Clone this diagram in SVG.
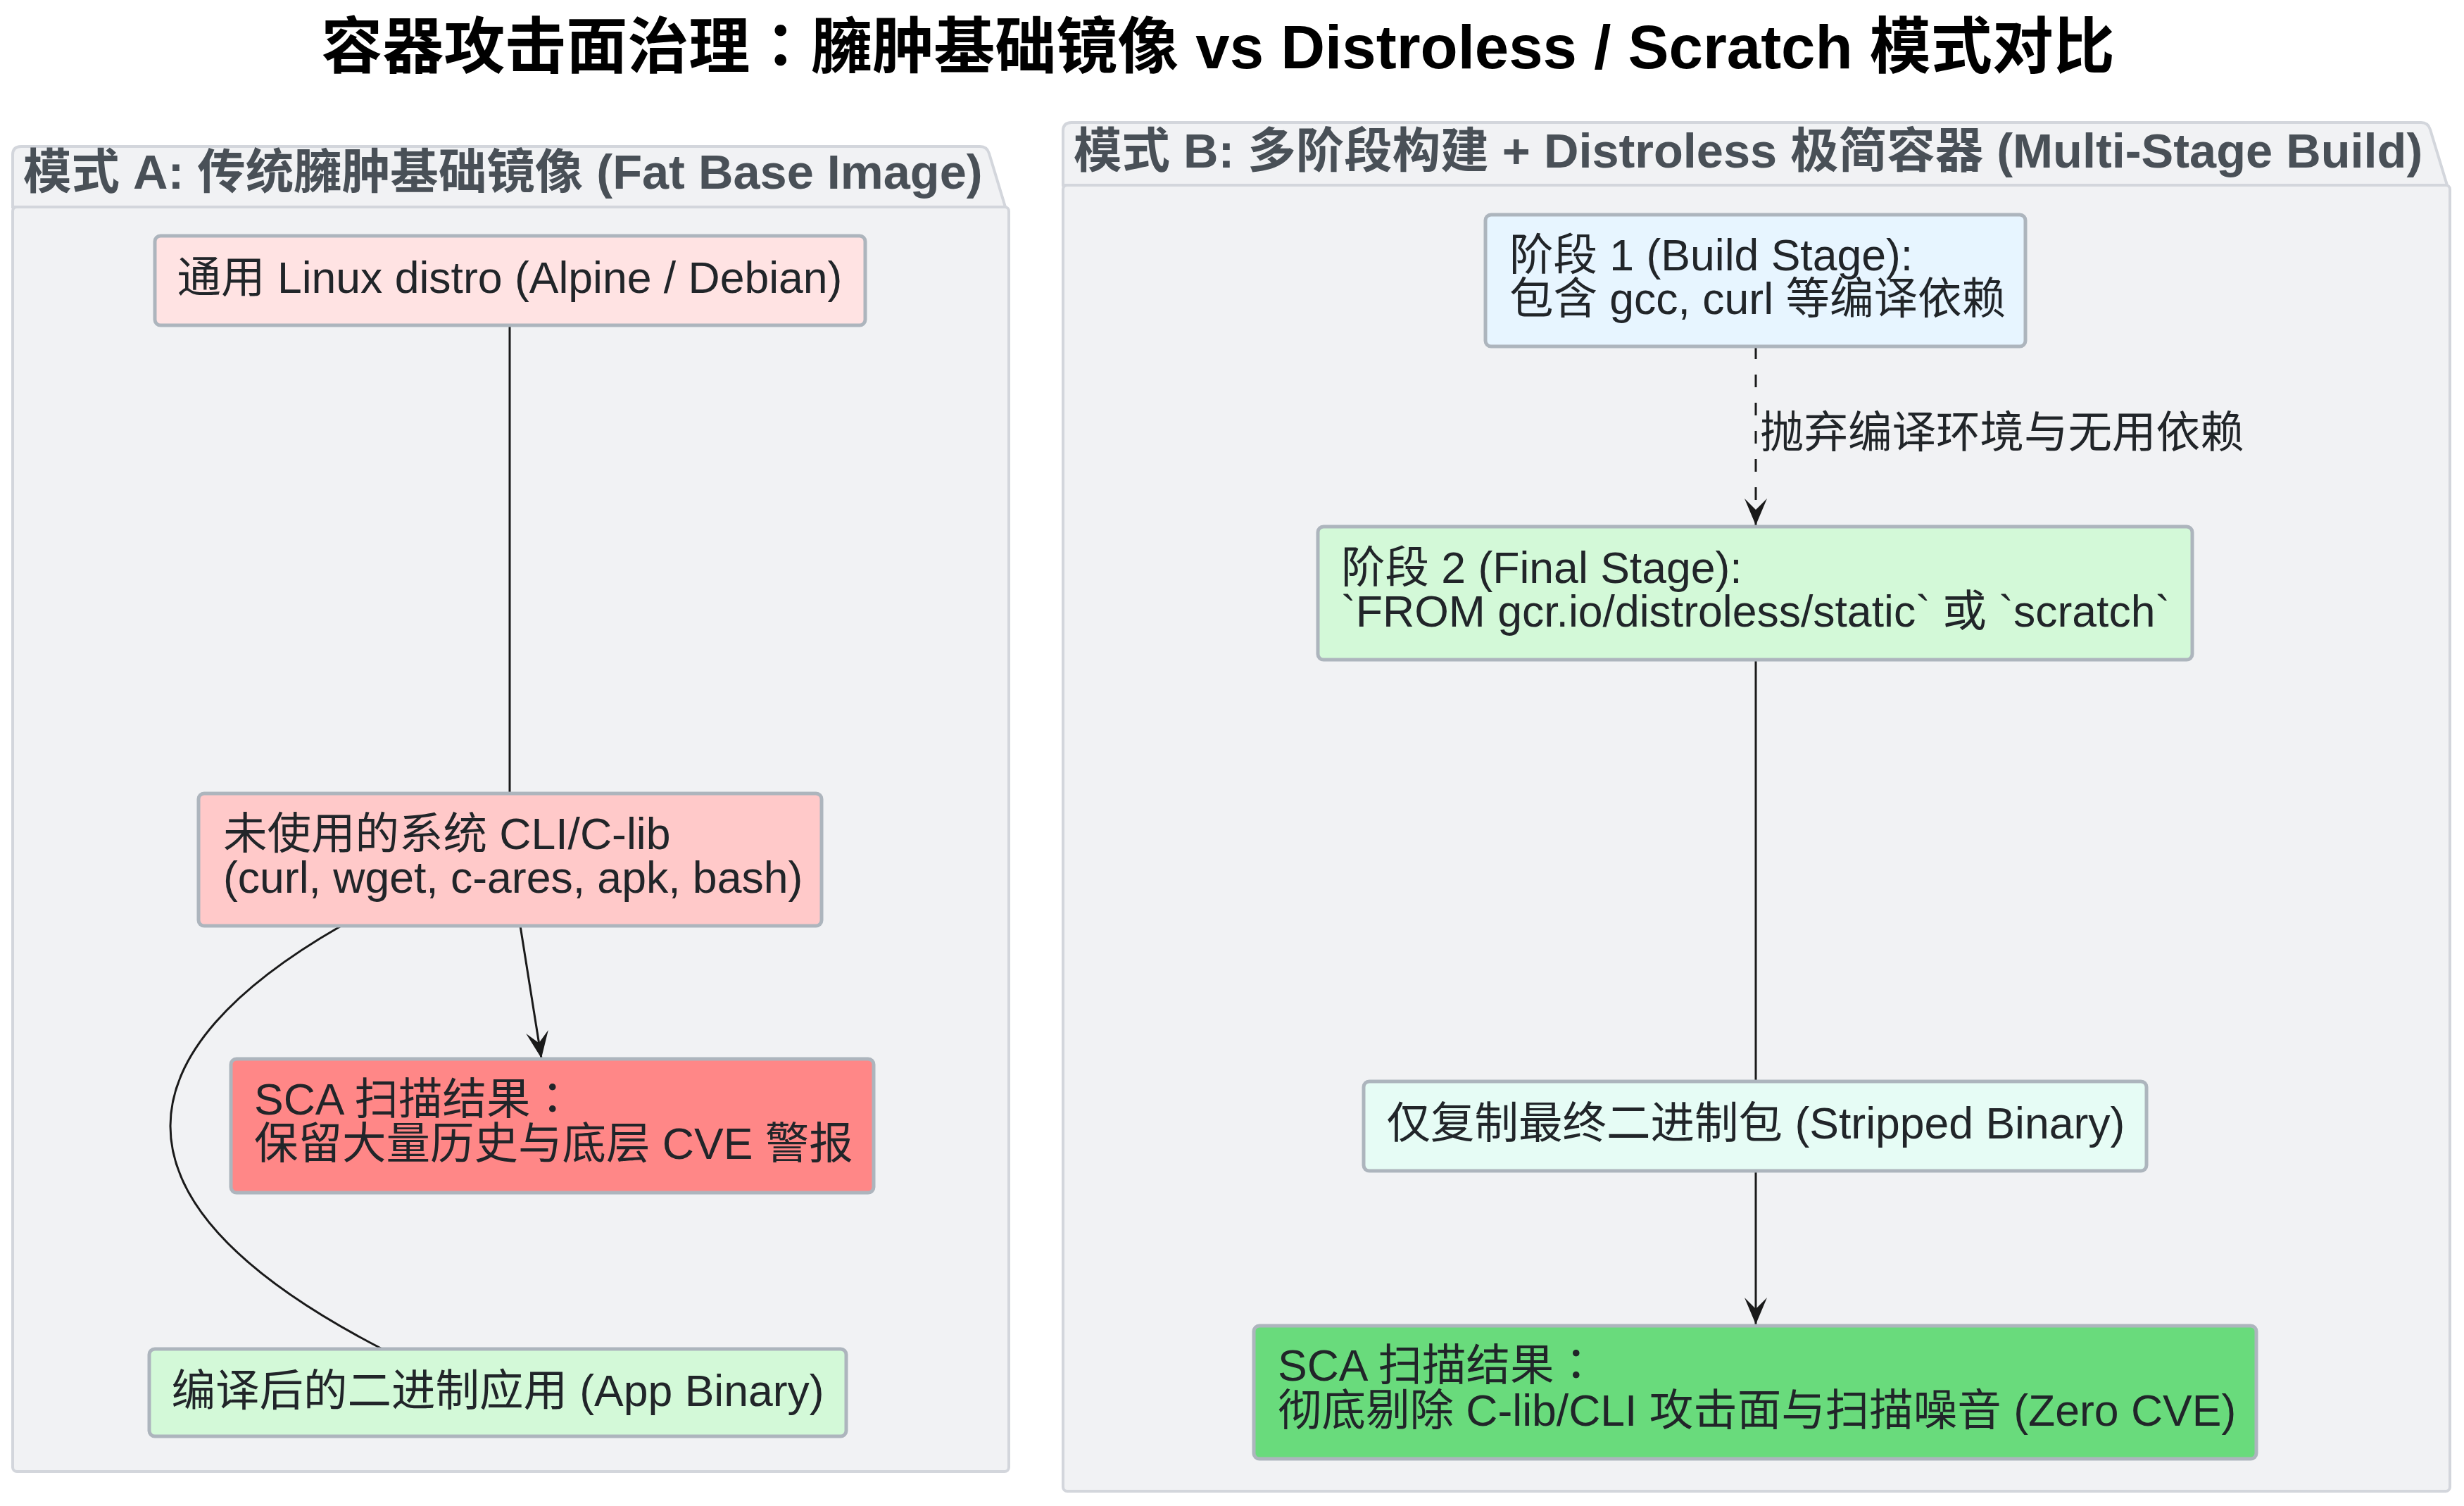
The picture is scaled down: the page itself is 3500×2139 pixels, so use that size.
<svg xmlns="http://www.w3.org/2000/svg" width="3500" height="2139" viewBox="0 0 3500 2139">
<style>
  text { font-family: "Liberation Sans", "Noto Sans CJK SC", Arial, sans-serif; }
  .title { font-size: 87px; font-weight: bold; fill: #000000; }
  .cl { fill: #f1f2f4; stroke: #d3d6dc; stroke-width: 4; }
  .cl-label { font-size: 68.5px; font-weight: bold; fill: #495057; }
  .box { stroke: #adb5bd; stroke-width: 5; }
  .t { font-size: 62.5px; fill: #212529; }
  .edge { fill: none; stroke: #1a1a1a; stroke-width: 3; }
  .dashed { stroke-dasharray: 18 22; }
  .cc { font-family: "Noto Sans CJK TC", "Noto Sans CJK SC", sans-serif; }
</style>
<defs>
  <marker id="arrow" viewBox="-40 -18 42 36" markerWidth="42" markerHeight="36" refX="0" refY="0" orient="auto" markerUnits="userSpaceOnUse">
    <path d="M0,0 L-38,-16 L-22,0 L-38,16 Z" fill="#1a1a1a"/>
  </marker>
</defs>
<rect x="0" y="0" width="3500" height="2139" fill="#ffffff"/>
<text class="title" x="1730" y="97" text-anchor="middle">容器攻击面治理<tspan class="cc">：</tspan>臃肿基础镜像 vs Distroless / Scratch 模式对比</text>

<g id="cluster-a">
  <path class="cl" d="M18,294 V220 Q18,208 30,208 H1392 Q1402,208 1405,218 L1428,294 Z"/>
  <rect class="cl" x="18" y="294" width="1415" height="1796" rx="6"/>
  <text class="cl-label" x="33" y="268">模式 A: 传统臃肿基础镜像 (Fat Base Image)</text>
</g>
<g id="cluster-b">
  <path class="cl" d="M1510,263 V186 Q1510,174 1522,174 H3439 Q3449,174 3452,184 L3476,263 Z"/>
  <rect class="cl" x="1510" y="263" width="1970" height="1855" rx="6"/>
  <text class="cl-label" x="1525" y="238">模式 B: 多阶段构建 + Distroless 极简容器 (Multi-Stage Build)</text>
</g>

<g id="connectors">
  <path class="edge" d="M724,463 L724,1126"/>
  <path class="edge" d="M739,1315 L769,1503" marker-end="url(#arrow)"/>
  <path class="edge" d="M483,1316 C182,1489 122,1698 541,1915"/>
  <path class="edge dashed" d="M2494,492 L2494,746" marker-end="url(#arrow)"/>
  <text class="t" x="2500" y="636">抛弃编译环境与无用依赖</text>
  <path class="edge" d="M2494,937 L2494,1536"/>
  <path class="edge" d="M2494,1663 L2494,1881" marker-end="url(#arrow)"/>
</g>

<g id="node-a1">
  <rect class="box" x="220" y="335" width="1009" height="127" rx="8" fill="#ffe3e3"/>
  <text class="t" x="724" y="416" text-anchor="middle">通用 Linux distro (Alpine / Debian)</text>
</g>
<g id="node-a2">
  <rect class="box" x="282" y="1127" width="885" height="188" rx="8" fill="#ffc9c9"/>
  <text class="t" x="317" y="1206">未使用的系统 CLI/C-lib</text>
  <text class="t" x="317" y="1268">(curl, wget, c-ares, apk, bash)</text>
</g>
<g id="node-a3">
  <rect class="box" x="328" y="1504" width="913" height="190" rx="8" fill="#ff8787"/>
  <text class="t" x="361" y="1583">SCA 扫描结果<tspan class="cc">：</tspan></text>
  <text class="t" x="361" y="1646">保留大量历史与底层 CVE 警报</text>
</g>
<g id="node-a4">
  <rect class="box" x="212" y="1916" width="990" height="124" rx="8" fill="#d3f9d8"/>
  <text class="t" x="707" y="1997" text-anchor="middle">编译后的二进制应用 (App Binary)</text>
</g>

<g id="node-b1">
  <rect class="box" x="2110" y="305" width="767" height="187" rx="8" fill="#e7f5ff"/>
  <text class="t" x="2144" y="384">阶段 1 (Build Stage):</text>
  <text class="t" x="2144" y="446">包含 gcc, curl 等编译依赖</text>
</g>
<g id="node-b2">
  <rect class="box" x="1872" y="748" width="1242" height="189" rx="8" fill="#d3f9d8"/>
  <text class="t" x="1905" y="828">阶段 2 (Final Stage):</text>
  <text class="t" x="1905" y="890">`FROM gcr.io/distroless/static` 或 `scratch`</text>
</g>
<g id="node-b3">
  <rect class="box" x="1937" y="1536" width="1112" height="127" rx="8" fill="#e6fcf5"/>
  <text class="t" x="2494" y="1617" text-anchor="middle">仅复制最终二进制包 (Stripped Binary)</text>
</g>
<g id="node-b4">
  <rect class="box" x="1781" y="1883" width="1424" height="189" rx="8" fill="#69db7c"/>
  <text class="t" x="1815" y="1961">SCA 扫描结果<tspan class="cc">：</tspan></text>
  <text class="t" x="1815" y="2025">彻底剔除 C-lib/CLI 攻击面与扫描噪音 (Zero CVE)</text>
</g>
</svg>
